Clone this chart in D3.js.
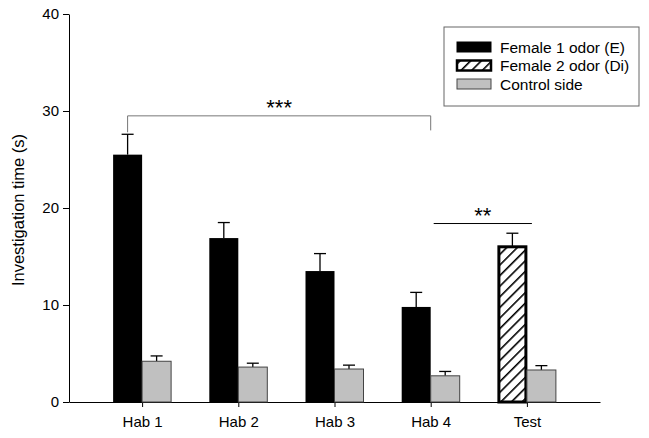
<!DOCTYPE html>
<html>
<head>
<meta charset="utf-8">
<script src="https://cdn.jsdelivr.net/npm/d3@7.9.0/dist/d3.min.js"></script>
<style>
  body { margin: 0; background: #fff; }
  svg { font-family: "Liberation Sans", Arial, sans-serif; }
</style>
</head>
<body>
<div id="chart"></div>
<script>
// data
const categories = ["Hab 1", "Hab 2", "Hab 3", "Hab 4", "Test"];
const odorMean = [25.5, 16.9, 13.5, 9.8, 16.0];
const odorErr = [2.1, 1.6, 1.8, 1.5, 1.4];
const controlMean = [4.2, 3.6, 3.4, 2.7, 3.3];
const controlErr = [0.55, 0.4, 0.4, 0.45, 0.45];
const yTicks = [0, 10, 20, 30, 40];

const W = 649, H = 438;
const svg = d3.select("#chart").append("svg")
    .attr("width", W).attr("height", H);

const defs = svg.append("defs");
const pat = defs.append("pattern")
    .attr("id", "hatch")
    .attr("patternUnits", "userSpaceOnUse")
    .attr("width", 7.5).attr("height", 7.5)
    .attr("patternTransform", "rotate(45)");
pat.append("rect").attr("width", 7.5).attr("height", 7.5).attr("fill", "#fff");
pat.append("line")
    .attr("x1", 0).attr("y1", 0).attr("x2", 0).attr("y2", 7.5)
    .attr("stroke", "#000").attr("stroke-width", 3.2);

// scales
const x = d3.scalePoint().domain(categories).range([69, 600]).padding(0.76);
const y = d3.scaleLinear().domain([0, 40]).range([402, 14]);
const bw = 29;

// axes
const yAxis = svg.append("g")
    .attr("transform", "translate(69,0)")
    .call(d3.axisLeft(y).tickValues(yTicks).tickSize(6).tickPadding(4).tickSizeOuter(0));
yAxis.selectAll("text").style("font-size", "15px").attr("fill", "#000");
yAxis.selectAll("line, path").attr("stroke", "#000");

const xAxis = svg.append("g")
    .attr("transform", "translate(0,402)")
    .call(d3.axisBottom(x).tickSize(5).tickPadding(9).tickSizeOuter(0));
xAxis.selectAll("text").style("font-size", "15px").attr("fill", "#000");
xAxis.selectAll("line, path").attr("stroke", "#000");

svg.append("text")
    .attr("transform", "translate(24,210) rotate(-90)")
    .attr("text-anchor", "middle")
    .style("font-size", "16.5px")
    .text("Investigation time (s)");

// error bars (upper whisker only) drawn before bars
function errBar(cx, top, e) {
  const yt = y(top + e);
  svg.append("line").attr("x1", cx).attr("x2", cx).attr("y1", y(top)).attr("y2", yt)
      .attr("stroke", "#000").attr("stroke-width", 1.3);
  svg.append("line").attr("x1", cx - 6).attr("x2", cx + 6).attr("y1", yt).attr("y2", yt)
      .attr("stroke", "#000").attr("stroke-width", 1.3);
}

categories.forEach((c, i) => {
  const cx = x(c);
  const test = c === "Test";
  errBar(cx - bw / 2, odorMean[i], odorErr[i]);
  errBar(cx + bw / 2, controlMean[i], controlErr[i]);
  if (test) {
    svg.append("rect")
        .attr("x", cx - bw + 1).attr("y", y(odorMean[i]))
        .attr("width", bw - 2).attr("height", y(0) - y(odorMean[i]))
        .attr("fill", "url(#hatch)").attr("stroke", "#000").attr("stroke-width", 3);
  } else {
    svg.append("rect")
        .attr("x", cx - bw).attr("y", y(odorMean[i]))
        .attr("width", bw).attr("height", y(0) - y(odorMean[i]))
        .attr("fill", "#000");
  }
  svg.append("rect")
      .attr("x", cx).attr("y", y(controlMean[i]))
      .attr("width", bw).attr("height", y(0) - y(controlMean[i]))
      .attr("fill", "#c0c0c0").attr("stroke", "#444").attr("stroke-width", 1);
});

// significance markers
const b1 = x("Hab 1") - bw / 2, b4 = x("Hab 4");
svg.append("path")
    .attr("d", `M${b1},${y(27.8)}V${y(29.5)}H${b4}V${y(28.0)}`)
    .attr("fill", "none").attr("stroke", "#777").attr("stroke-width", 1);
svg.append("text")
    .attr("x", (b1 + b4) / 2).attr("y", y(29.5) - 1)
    .attr("text-anchor", "middle")
    .style("font-size", "22px")
    .text("***");

const s1 = x("Hab 4") + 3, s2 = x("Test") + 5;
svg.append("line")
    .attr("x1", s1).attr("x2", s2).attr("y1", y(18.4)).attr("y2", y(18.4))
    .attr("stroke", "#000").attr("stroke-width", 1);
svg.append("text")
    .attr("x", (s1 + s2) / 2).attr("y", y(18.4) - 1)
    .attr("text-anchor", "middle")
    .style("font-size", "22px")
    .text("**");

// legend
const lg = svg.append("g");
lg.append("rect").attr("x", 444).attr("y", 27).attr("width", 195).attr("height", 79)
    .attr("fill", "#fff").attr("stroke", "#666").attr("stroke-width", 1);
const legendItems = [
  {label: "Female 1 odor (E)", fill: "#000", stroke: "#000", sw: 1},
  {label: "Female 2 odor (Di)", fill: "url(#hatch)", stroke: "#000", sw: 2.5},
  {label: "Control side", fill: "#c0c0c0", stroke: "#444", sw: 1}
];
legendItems.forEach((d, i) => {
  const yy = 42 + i * 18.5;
  lg.append("rect").attr("x", 457).attr("y", yy).attr("width", 34).attr("height", 10)
      .attr("fill", d.fill).attr("stroke", d.stroke).attr("stroke-width", d.sw);
  lg.append("text").attr("x", 500).attr("y", yy + 10.5)
      .style("font-size", "15.5px").text(d.label);
});
</script>
</body>
</html>
